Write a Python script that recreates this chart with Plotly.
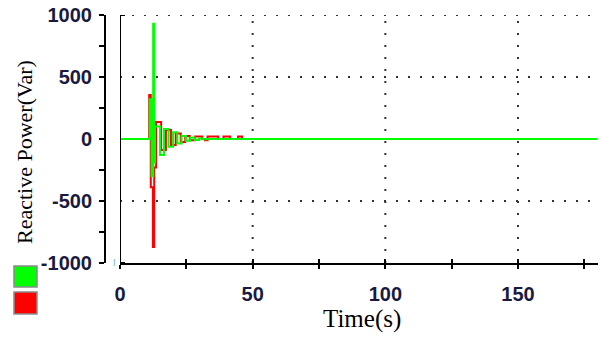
import plotly.graph_objects as go

# Step-sampled reactive power responses after the disturbance at t ~ 11 s
GREEN_T = [0, 11.2, 11.9, 12.5, 12.9, 13.2, 15.1, 16.6, 18.3, 20.0, 21.6,
           23.2, 24.9, 26.5, 28.2, 29.8, 31.4, 32.7, 180]
GREEN_Q = [0, 320, -300, 930, -190, 100, -130, 80, -62, 55, -37,
           25, -15, 12, -8, 5, -3, 0, 0]

RED_T = [0, 11.0, 11.6, 12.4, 12.9, 13.6, 15.5, 17.3, 19.2, 21.0, 22.9,
         24.6, 26.3, 28.3, 31.0, 32.0, 33.0, 37.0, 39.0, 41.5, 44.5, 46.0,
         180]
RED_Q = [0, 355, -390, -870, -230, 137, -89, 72, -48, 45, -25,
         25, -10, 20, 0, -10, 20, 0, 20, 0, 20, 0, 0]

X_TICKS = [0, 25, 50, 75, 100, 125, 150, 175]
X_LABELS = ["0", "", "50", "", "100", "", "150", ""]
Y_TICKS = [-1000, -750, -500, -250, 0, 250, 500, 750, 1000]
Y_LABELS = ["-1000", "", "-500", "", "0", "", "500", "", "1000"]
GRID_T = [50, 100, 150]
GRID_Q = [-500, 500, 1000]
X_RANGE = [0, 180]
Y_RANGE = [-1000, 1000]

W, H = 600, 339
PLOT_TOP, PLOT_BOTTOM = 15, 263
PLOT_H = PLOT_BOTTOM - PLOT_TOP


def py(px):
    """Pixel row -> paper y (paper spans the plot area vertically)."""
    return (PLOT_BOTTOM - px) / PLOT_H


TICK_FONT = dict(family="Liberation Sans, Arial", size=20, color="#1a1a40",
                 weight="bold")
SERIF = "Liberation Serif, Times New Roman"

fig = go.Figure()
fig.add_trace(go.Scatter(x=RED_T, y=RED_Q, mode="lines", line_shape="hv",
                         line=dict(color="#ff0000", width=2),
                         showlegend=False, hoverinfo="skip"))
fig.add_trace(go.Scatter(x=GREEN_T, y=GREEN_Q, mode="lines", line_shape="hv",
                         line=dict(color="#00ff00", width=2),
                         showlegend=False, hoverinfo="skip"))
# empty trace so the overlaid tick axis is drawn
fig.add_trace(go.Scatter(x=[], y=[], xaxis="x2", showlegend=False))

shapes = []
# dotted grid
for q in GRID_Q:
    shapes.append(dict(type="line", xref="x", yref="y", x0=X_RANGE[0],
                       x1=X_RANGE[1], y0=q, y1=q, layer="below",
                       line=dict(color="#333333", width=2, dash="2px,10px")))
for t in GRID_T:
    shapes.append(dict(type="line", xref="x", yref="y", x0=t, x1=t,
                       y0=Y_RANGE[0], y1=Y_RANGE[1], layer="below",
                       line=dict(color="#333333", width=2, dash="2px,10px")))
# vertical line at t = 0 with small end ticks
shapes.append(dict(type="line", xref="x", yref="y", x0=0, x1=0,
                   y0=Y_RANGE[0], y1=Y_RANGE[1],
                   line=dict(color="black", width=2)))
for q in (Y_RANGE[1], Y_RANGE[0]):
    shapes.append(dict(type="line", xref="x", yref="y", xsizemode="pixel",
                       xanchor=0, x0=-4, x1=5, y0=q, y1=q,
                       line=dict(color="black", width=2)))
# colour swatches
for top, bot, col in ((266, 287, "#00ff00"), (292, 314, "#ff0000")):
    shapes.append(dict(type="rect", xref="paper", yref="paper",
                       x0=14 / W, x1=37 / W, y0=py(bot), y1=py(top),
                       fillcolor=col, line=dict(color="#8a8a8a", width=1.5)))
# small blue mark near the bottom of the value axis
shapes.append(dict(type="line", xref="paper", yref="paper",
                   x0=114.5 / W, x1=114.5 / W, y0=py(266), y1=py(259),
                   line=dict(color="#9cc8f0", width=1.5)))

fig.update_layout(
    width=W, height=H,
    margin=dict(l=0, r=0, t=PLOT_TOP, b=H - PLOT_BOTTOM, pad=0),
    paper_bgcolor="white", plot_bgcolor="white",
    showlegend=False,
    xaxis=dict(domain=[120 / W, 597.6 / W], range=X_RANGE, anchor="y",
               automargin=False,
               showgrid=False, zeroline=False,
               showline=True, linecolor="black", linewidth=2,
               tickmode="array", tickvals=X_TICKS, ticktext=X_LABELS,
               ticks="outside", ticklen=4, tickwidth=2, tickcolor="black",
               ticklabelstandoff=8, tickfont=TICK_FONT),
    xaxis2=dict(overlaying="x", matches="x", anchor="y", side="bottom",
                automargin=False,
                range=X_RANGE, showgrid=False, zeroline=False,
                showline=False, showticklabels=False,
                tickmode="array", tickvals=X_TICKS,
                ticks="inside", ticklen=4, tickwidth=2, tickcolor="black"),
    yaxis=dict(range=Y_RANGE, anchor="free", position=105 / W,
               automargin=False,
               showgrid=False, zeroline=False,
               showline=True, linecolor="black", linewidth=2,
               tickmode="array", tickvals=Y_TICKS, ticktext=Y_LABELS,
               ticks="outside", ticklen=5, tickwidth=2, tickcolor="black",
               ticklabelstandoff=3, tickfont=TICK_FONT),
    shapes=shapes,
    annotations=[
        dict(text="Time(s)", xref="paper", yref="paper", x=362 / W,
             y=py(319), xanchor="center", yanchor="middle",
             showarrow=False, font=dict(family=SERIF, size=25, color="black")),
        dict(text="Reactive Power(Var)", xref="paper", yref="paper",
             x=24 / W, y=py(152), xanchor="center", yanchor="middle",
             textangle=-90, showarrow=False,
             font=dict(family=SERIF, size=22, color="black")),
    ],
)

fig.write_html("out.html")
